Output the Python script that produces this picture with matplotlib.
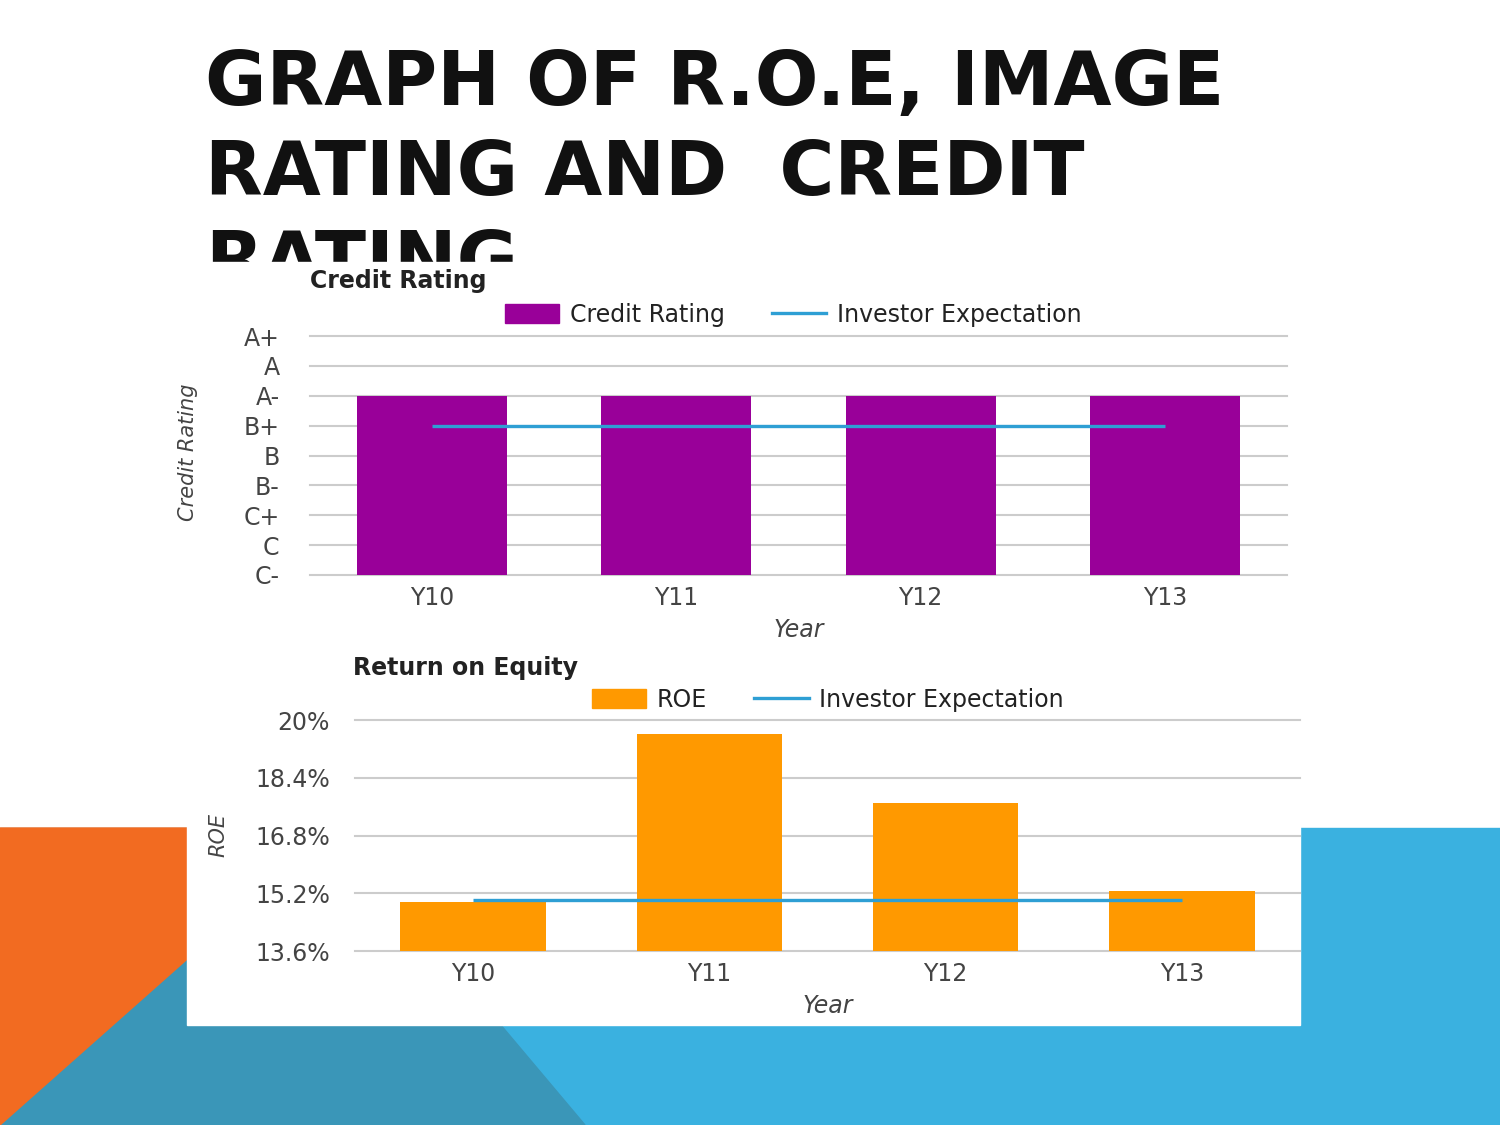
import matplotlib
matplotlib.use("Agg")
import matplotlib.pyplot as plt
from matplotlib.patches import Polygon, Rectangle
from matplotlib.lines import Line2D
from matplotlib.transforms import Bbox, TransformedBbox

# ---------------- data ----------------
years = ["Y10", "Y11", "Y12", "Y13"]
rating_levels = ["C-", "C", "C+", "B-", "B", "B+", "A-", "A", "A+"]
credit_rating = ["A-", "A-", "A-", "A-"]
credit_expectation = ["B+", "B+", "B+", "B+"]

roe = [14.95, 19.6, 17.7, 15.25]
roe_expectation = [15.0, 15.0, 15.0, 15.0]
roe_ticks = [13.6, 15.2, 16.8, 18.4, 20.0]
roe_tick_labels = ["13.6%", "15.2%", "16.8%", "18.4%", "20%"]

title_lines = ["GRAPH OF R.O.E, IMAGE", "RATING AND  CREDIT", "RATING"]

# ---------------- style ----------------
W, H = 1500, 1125
PURPLE = "#990099"
ORANGE = "#FF9900"
LINE = "#2E9FD4"
GRID = "#cccccc"
TICK = "#444444"
FS = 17


def fx(x):
    return x / W


def fy(y):
    return 1 - y / H


def rect(x0, y0, x1, y1):
    return [fx(x0), fy(y1), (x1 - x0) / W, (y1 - y0) / H]


fig = plt.figure(figsize=(15, 11.25), dpi=100)

# background slide
bg = fig.add_axes([0, 0, 1, 1], zorder=0)
bg.set_xlim(0, W)
bg.set_ylim(H, 0)
bg.axis("off")
bg.add_patch(Rectangle((0, 828), W, H - 828, color="#3AB1E0", zorder=1))
bg.add_patch(Polygon([(0, 1125), (335, 828), (585, 1125)], closed=True,
                     color="#3A96B8", zorder=1.1))
bg.add_patch(Polygon([(0, 828), (335, 828), (0, 1125)], closed=True,
                     color="#F26B21", zorder=1.2))
# title is cut off by the chart image placed over it (at y = 262 px)
clip = TransformedBbox(Bbox([[0, 1 - 262 / H], [1, 1]]), fig.transFigure)
for i, line in enumerate(title_lines):
    t = bg.text(205, 105 + 90 * i, line, fontsize=54, fontweight="bold",
                color="#111111", va="baseline", ha="left", zorder=2,
                family="DejaVu Sans")
    t.set_clip_box(clip)
    t.set_clip_on(True)
# white chart panel
bg.add_patch(Rectangle((187, 262), 1300 - 187, 1025 - 262, color="white",
                       zorder=5))


def style_axes(ax, pad_y):
    for s in ax.spines.values():
        s.set_visible(False)
    ax.set_facecolor("none")
    ax.yaxis.grid(True, color=GRID, lw=1.5)
    ax.set_axisbelow(True)
    ax.tick_params(axis="both", length=0, labelsize=FS, labelcolor=TICK)
    ax.tick_params(axis="y", pad=pad_y)
    ax.tick_params(axis="x", pad=8)
    for gl in ax.get_ygridlines():
        gl.set_clip_on(False)


# ---------------- chart 1: credit rating ----------------
ax1 = fig.add_axes(rect(310, 336, 1287, 575), zorder=2)
x = list(range(len(years)))
cr_vals = [rating_levels.index(v) for v in credit_rating]
ce_vals = [rating_levels.index(v) for v in credit_expectation]
ax1.bar(x, cr_vals, width=0.615, color=PURPLE, zorder=2)
ax1.plot(x, ce_vals, color=LINE, lw=2.4, zorder=3, solid_capstyle="butt")
ax1.set_xlim(-0.5, 3.5)
ax1.set_ylim(0, len(rating_levels) - 1)
ax1.set_yticks(range(len(rating_levels)))
ax1.set_yticklabels(rating_levels)
ax1.set_xticks(x)
ax1.set_xticklabels(years)
style_axes(ax1, 22)
ax1.set_xlabel("Year", fontsize=FS, style="italic", color=TICK)
ax1.xaxis.set_label_coords(0.5, -0.18)
ax1.set_ylabel("Credit Rating", fontsize=15, style="italic", color=TICK)
ax1.yaxis.label.set_va("center")
ax1.yaxis.set_label_coords((188 - 310) / 977, (575 - 452) / 239)

fig.text(fx(310), fy(281), "Credit Rating", fontsize=FS, fontweight="bold",
         color="#222222", va="center", ha="left", zorder=3)
h1 = [Rectangle((0, 0), 1, 1, color=PURPLE),
      Line2D([0], [0], color=LINE, lw=2.4)]
ax1.legend(h1, ["Credit Rating", "Investor Expectation"], ncol=2,
           loc="center left", bbox_to_anchor=(fx(505), fy(315)),
           bbox_transform=fig.transFigure, frameon=False, fontsize=FS,
           handlelength=2.3, handleheight=0.85, handletextpad=0.45,
           columnspacing=2.0, borderpad=0, borderaxespad=0,
           labelcolor="#222222")

# ---------------- chart 2: ROE ----------------
ax2 = fig.add_axes(rect(355, 720, 1300, 951), zorder=2)
ax2.bar(x, roe, width=0.615, color=ORANGE, zorder=2)
ax2.plot(x, roe_expectation, color=LINE, lw=2.4, zorder=3,
         solid_capstyle="butt")
ax2.set_xlim(-0.5, 3.5)
ax2.set_ylim(roe_ticks[0], roe_ticks[-1])
ax2.set_yticks(roe_ticks)
ax2.set_yticklabels(roe_tick_labels)
ax2.set_xticks(x)
ax2.set_xticklabels(years)
style_axes(ax2, 18)
ax2.set_xlabel("Year", fontsize=FS, style="italic", color=TICK)
ax2.xaxis.set_label_coords(0.5, -0.185)
ax2.set_ylabel("ROE", fontsize=15, style="italic", color=TICK)
ax2.yaxis.label.set_va("center")
ax2.yaxis.set_label_coords((218 - 355) / 945, (951 - 835) / 231)

fig.text(fx(353), fy(668), "Return on Equity", fontsize=FS,
         fontweight="bold", color="#222222", va="center", ha="left",
         zorder=3)
h2 = [Rectangle((0, 0), 1, 1, color=ORANGE),
      Line2D([0], [0], color=LINE, lw=2.4)]
ax2.legend(h2, ["ROE", "Investor Expectation"], ncol=2,
           loc="center left", bbox_to_anchor=(fx(592), fy(700)),
           bbox_transform=fig.transFigure, frameon=False, fontsize=FS,
           handlelength=2.3, handleheight=0.85, handletextpad=0.45,
           columnspacing=2.0, borderpad=0, borderaxespad=0,
           labelcolor="#222222")

fig.savefig("out.png", dpi=100)
